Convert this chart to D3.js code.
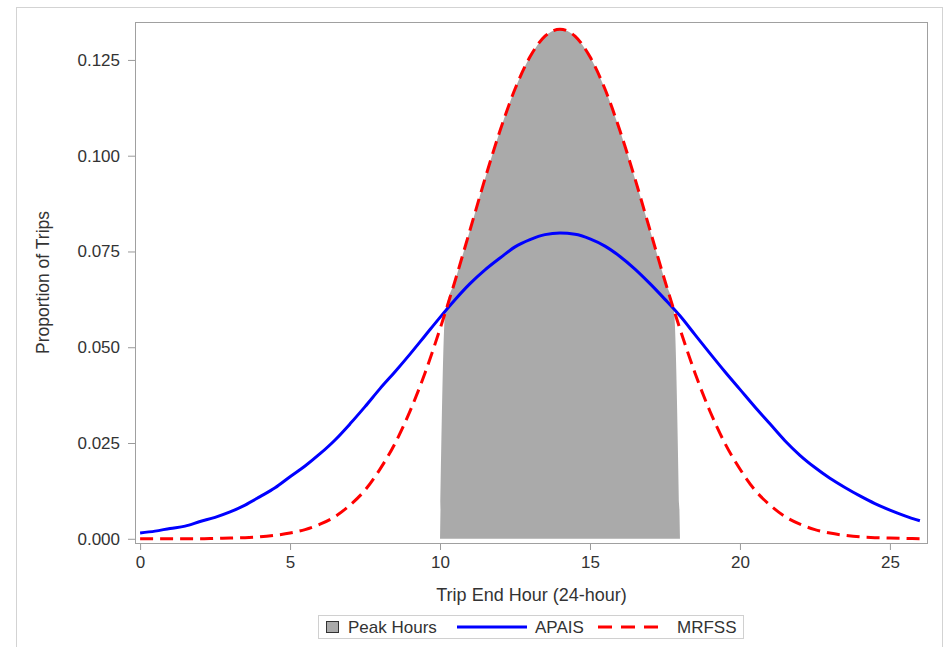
<!DOCTYPE html>
<html>
<head>
<meta charset="utf-8">
<script src="https://cdn.jsdelivr.net/npm/d3@7"></script>
<style>
body { margin: 0; background: #fff; }
text { font-family: Arial, "Liberation Sans", sans-serif; fill: #333; }
</style>
</head>
<body>
<div id="c"></div>
<script>
// hours every half hour, 0 to 26
var hours = [0, 0.5, 1, 1.5, 2, 2.5, 3, 3.5, 4, 4.5, 5, 5.5, 6, 6.5, 7, 7.5, 8, 8.5, 9, 9.5,
	10, 10.5, 11, 11.5, 12, 12.5, 13, 13.5, 14, 14.5, 15, 15.5, 16, 16.5, 17, 17.5, 18, 18.5, 19, 19.5,
	20, 20.5, 21, 21.5, 22, 22.5, 23, 23.5, 24, 24.5, 25, 25.5, 26];

var apais = [0.0015, 0.0020, 0.0027, 0.0033, 0.0045, 0.0056, 0.0070, 0.0088, 0.0110, 0.0133,
	0.0162, 0.0190, 0.0222, 0.0258, 0.0300, 0.0345, 0.0392, 0.0436, 0.0482, 0.0530,
	0.0578, 0.0624, 0.0666, 0.0702, 0.0733, 0.0762, 0.0781, 0.0794, 0.0798, 0.0795,
	0.0783, 0.0764, 0.0737, 0.0704, 0.0666, 0.0625, 0.0582, 0.0533, 0.0484, 0.0436,
	0.0390, 0.0344, 0.0300, 0.0256, 0.0218, 0.0186, 0.0158, 0.0134, 0.0112, 0.0092,
	0.0075, 0.0060, 0.0047];

var mrfss = [0.0000, 0.0000, 0.0000, 0.0000, 0.0000, 0.0001, 0.0002, 0.0003, 0.0005, 0.0009,
	0.0015, 0.0024, 0.0038, 0.0058, 0.0088, 0.0127, 0.0182, 0.0249, 0.0333, 0.0433,
	0.0548, 0.0673, 0.0806, 0.0940, 0.1065, 0.1174, 0.1258, 0.1312, 0.1330, 0.1312,
	0.1258, 0.1174, 0.1065, 0.0940, 0.0806, 0.0673, 0.0548, 0.0433, 0.0333, 0.0249,
	0.0182, 0.0127, 0.0088, 0.0058, 0.0038, 0.0024, 0.0015, 0.0009, 0.0005, 0.0003,
	0.0002, 0.0001, 0.0000];

// peak hours band outline (10 to 18)
var peakX = [10, 10.17, 10.5, 11, 11.5, 12, 12.5, 13, 13.5, 14, 14.5, 15, 15.5, 16, 16.5, 17, 17.5, 17.8, 18];
var peakTop = [0, 0.0589, 0.0673, 0.0806, 0.0940, 0.1065, 0.1174, 0.1258, 0.1312, 0.1330,
	0.1312, 0.1258, 0.1174, 0.1065, 0.0940, 0.0806, 0.0673, 0.0596, 0];

var xTicks = [0, 5, 10, 15, 20, 25];
var yTicks = [0, 0.025, 0.05, 0.075, 0.1, 0.125];

var width = 947;
var height = 647;

var p_left = 135, p_right = 928, p_top = 22, p_bottom = 543;

var svg = d3.select("#c").append("svg")
	.attr("width", width)
	.attr("height", height);

// outer frame
svg.append("rect")
	.attr("x", 16.5)
	.attr("y", 7.5)
	.attr("width", 926)
	.attr("height", 680)
	.attr("fill", "none")
	.attr("stroke", "#d3d3d3");

var x_scale = d3.scaleLinear()
	.domain([-0.17, 26.27])
	.range([p_left, p_right]);

var y_scale = d3.scaleLinear()
	.domain([-0.0011, 0.1349])
	.range([p_bottom, p_top]);

svg.append("defs").append("clipPath")
	.attr("id", "clip")
	.append("rect")
	.attr("x", p_left)
	.attr("y", p_top)
	.attr("width", p_right - p_left)
	.attr("height", p_bottom - p_top);

var plot = svg.append("g").attr("clip-path", "url(#clip)");

var band = d3.area()
	.x(function(d, i) { return x_scale(peakX[i]); })
	.y0(y_scale(0))
	.y1(function(d) { return y_scale(d); })
	.curve(d3.curveMonotoneX);

plot.append("path")
	.attr("d", band(peakTop))
	.attr("fill", "#aaaaaa");

var line = d3.line()
	.x(function(d, i) { return x_scale(hours[i]); })
	.y(function(d) { return y_scale(d); })
	.curve(d3.curveMonotoneX);

plot.append("path")
	.attr("d", line(apais))
	.attr("fill", "none")
	.attr("stroke", "#0000ff")
	.attr("stroke-width", 3);

plot.append("path")
	.attr("d", line(mrfss))
	.attr("fill", "none")
	.attr("stroke", "#ff0000")
	.attr("stroke-width", 3)
	.attr("stroke-dasharray", "13,7");

// axes
svg.append("g")
	.attr("transform", "translate(0," + p_bottom + ")")
	.call(d3.axisBottom(x_scale).tickValues(xTicks).tickSize(7).tickPadding(6));

svg.append("g")
	.attr("transform", "translate(" + p_left + ",0)")
	.call(d3.axisLeft(y_scale).tickValues(yTicks).tickFormat(d3.format(".3f")).tickSize(7).tickPadding(8));

svg.selectAll(".domain").remove();
svg.selectAll(".tick line").attr("stroke", "#9a9a9a");
svg.selectAll(".tick text")
	.attr("font-size", "17px")
	.attr("fill", "#333");
svg.selectAll("g").attr("font-family", null);

// plot frame
svg.append("rect")
	.attr("x", p_left + 0.5)
	.attr("y", p_top + 0.5)
	.attr("width", p_right - p_left - 1)
	.attr("height", p_bottom - p_top)
	.attr("fill", "none")
	.attr("stroke", "#a0a0a0");

svg.append("text")
	.attr("x", (p_left + p_right) / 2)
	.attr("y", 601)
	.attr("text-anchor", "middle")
	.attr("font-size", "18px")
	.text("Trip End Hour (24-hour)");

svg.append("text")
	.attr("transform", "translate(49," + ((p_top + p_bottom) / 2) + ") rotate(-90)")
	.attr("text-anchor", "middle")
	.attr("font-size", "17.5px")
	.text("Proportion of Trips");

// legend
var lg = svg.append("g");
lg.append("rect")
	.attr("x", 318.5)
	.attr("y", 615.5)
	.attr("width", 425)
	.attr("height", 23)
	.attr("fill", "#fff")
	.attr("stroke", "#d0d0d0");

lg.append("rect")
	.attr("x", 326.5)
	.attr("y", 621.5)
	.attr("width", 12)
	.attr("height", 11)
	.attr("fill", "#aaaaaa")
	.attr("stroke", "#333");

lg.append("text")
	.attr("x", 348)
	.attr("y", 633)
	.attr("font-size", "17px")
	.text("Peak Hours");

lg.append("line")
	.attr("x1", 457).attr("x2", 527)
	.attr("y1", 627).attr("y2", 627)
	.attr("stroke", "#0000ff")
	.attr("stroke-width", 3);

lg.append("text")
	.attr("x", 535)
	.attr("y", 633)
	.attr("font-size", "17px")
	.text("APAIS");

lg.append("line")
	.attr("x1", 598).attr("x2", 658)
	.attr("y1", 627).attr("y2", 627)
	.attr("stroke", "#ff0000")
	.attr("stroke-width", 3)
	.attr("stroke-dasharray", "14,9");

lg.append("text")
	.attr("x", 677)
	.attr("y", 633)
	.attr("font-size", "17px")
	.text("MRFSS");
</script>
</body>
</html>
